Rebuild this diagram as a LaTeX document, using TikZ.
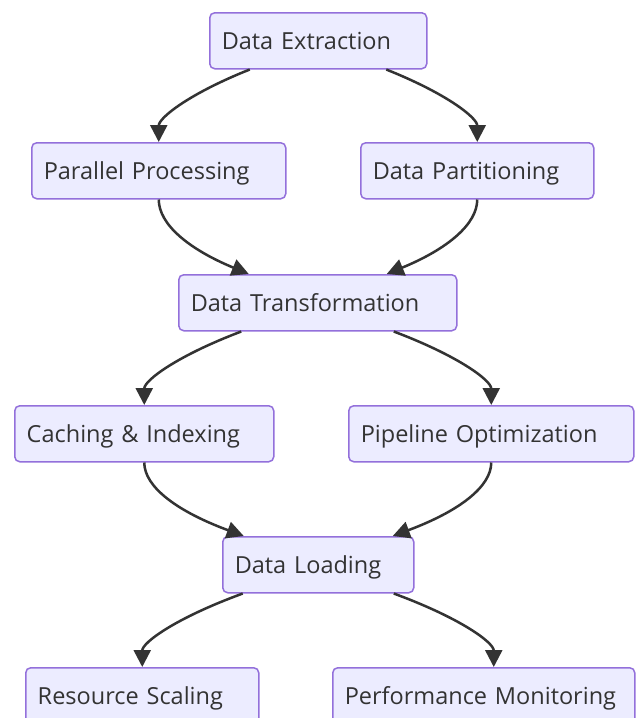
\documentclass[tikz,border=0pt]{standalone}
\usepackage{fontspec}
\setmainfont{Open Sans}
\usetikzlibrary{arrows.meta,calc}
\definecolor{boxfill}{HTML}{ECECFF}
\definecolor{boxline}{HTML}{9370DB}
\definecolor{ink}{HTML}{333333}
\tikzset{
  box/.style={draw=boxline, fill=boxfill, line width=1.5pt, rounded corners=5pt,
    text=ink, font=\fontsize{23.5}{29}\selectfont, align=left,
    inner xsep=12pt, inner ysep=0pt, minimum height=56pt,
    text height=23pt, text depth=6pt, anchor=north west},
  edge/.style={draw=ink, line width=2.5pt, -{Triangle[length=17pt,width=17pt]}}
}
% fan-out: leaves diagonally, arrives vertically
\newcommand{\MyEdgeOut}[2]{%
  \coordinate (tmpm) at ($(#1)!0.5!(#2)$);
  \coordinate (tmpm) at (#2 |- tmpm);
  \draw[edge] (#1) .. controls ($(#1)!0.667!(tmpm)$) and ($(#2)!0.667!(tmpm)$) .. (#2);}
% fan-in: leaves vertically, arrives diagonally
\newcommand{\MyEdgeIn}[2]{%
  \coordinate (tmpm) at ($(#1)!0.5!(#2)$);
  \coordinate (tmpm) at (#1 |- tmpm);
  \draw[edge] (#1) .. controls ($(#1)!0.667!(tmpm)$) and ($(#2)!0.667!(tmpm)$) .. (#2);}
\begin{document}
\begin{tikzpicture}[x=1pt,y=-1pt]
\clip (0,0) rectangle (636,718);
\fill[white] (0,0) rectangle (636,718);

\node[box, text width=193pt] (de) at (209,12)  {\mbox{Data Extraction}};
\node[box, text width=230pt] (pp) at (31,142)  {\mbox{Parallel Processing}};
\node[box, text width=209pt] (dp) at (360,142) {\mbox{Data Partitioning}};
\node[box, text width=254pt] (dt) at (178,274) {\mbox{Data Transformation}};
\node[box, text width=235pt] (ci) at (14,405)  {\mbox{Caching \& Indexing}};
\node[box, text width=261pt] (po) at (348,405) {\mbox{Pipeline Optimization}};
\node[box, text width=167pt] (dl) at (222,536) {\mbox{Data Loading}};
\node[box, text width=209pt] (rs) at (25,667)  {\mbox{Resource Scaling}};
\node[box, text width=278pt] (pm) at (332,667) {\mbox{Performance Monitoring}};

\coordinate (deL) at ($(de.south)+(-68.5,0)$);
\coordinate (deR) at ($(de.south)+(68,0)$);
\coordinate (dtInL) at ($(dt.north)+(-69,0)$);
\coordinate (dtInR) at ($(dt.north)+(69,0)$);
\coordinate (dtL) at ($(dt.south)+(-76.5,0)$);
\coordinate (dtR) at ($(dt.south)+(76,0)$);
\coordinate (dlInL) at ($(dl.north)+(-74.5,0)$);
\coordinate (dlInR) at ($(dl.north)+(74.5,0)$);
\coordinate (dlL) at ($(dl.south)+(-75.5,0)$);
\coordinate (dlR) at ($(dl.south)+(75.5,0)$);
\coordinate (pmIn) at ($(pm.north)+(10,0)$);

\MyEdgeOut{deL}{pp.north}
\MyEdgeOut{deR}{dp.north}
\MyEdgeIn{pp.south}{dtInL}
\MyEdgeIn{dp.south}{dtInR}
\MyEdgeOut{dtL}{ci.north}
\MyEdgeOut{dtR}{po.north}
\MyEdgeIn{ci.south}{dlInL}
\MyEdgeIn{po.south}{dlInR}
\MyEdgeOut{dlL}{rs.north}
\MyEdgeOut{dlR}{pmIn}
\end{tikzpicture}
\end{document}
